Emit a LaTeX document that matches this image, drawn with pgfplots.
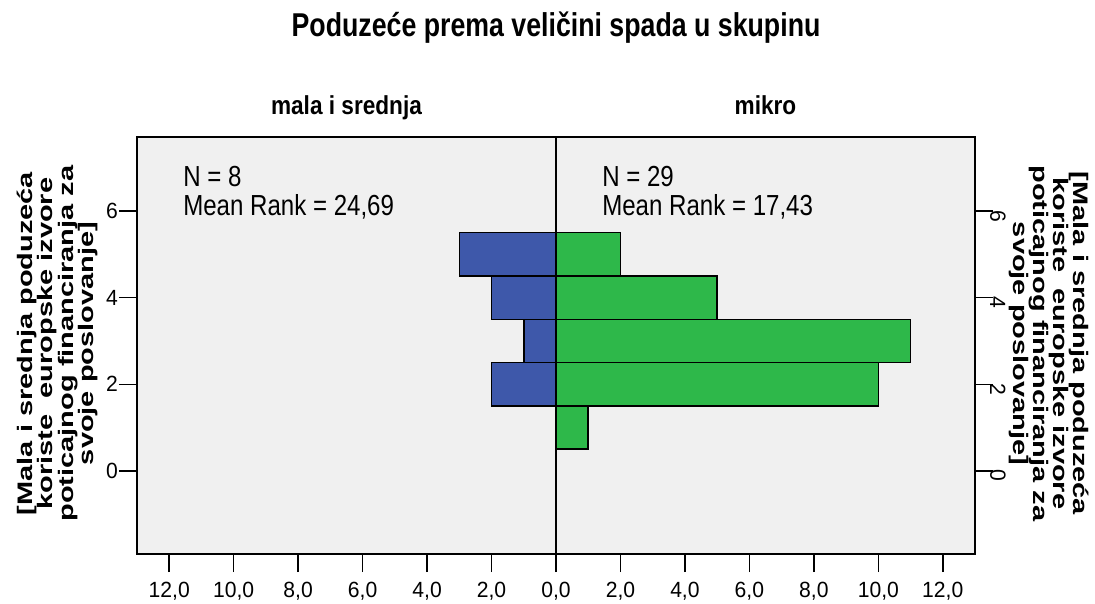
\documentclass[border=0pt]{standalone}
\usepackage{pgfplots}
\pgfplotsset{compat=1.18}
\usepackage{fontspec}
\setmainfont{Liberation Sans}
\newfontfamily\titlefont[FakeStretch=0.81]{Liberation Sans}
\newfontfamily\panelfont[FakeStretch=0.87]{Liberation Sans}
\newfontfamily\statfont[FakeStretch=0.83]{Liberation Sans}
\newfontfamily\tickfont[FakeStretch=0.96]{Liberation Sans}
\newfontfamily\vlabfont[FakeStretch=1.38]{Liberation Sans}

\definecolor{bgc}{RGB}{240,240,240}
\definecolor{blueb}{RGB}{62,88,170}
\definecolor{greenb}{RGB}{46,184,74}

\tikzset{
  stat/.style={anchor=base west, inner sep=0pt, font=\statfont\fontsize{29}{29}\selectfont},
  vlab/.style={anchor=center, align=center, font=\vlabfont\bfseries\fontsize{21}{20.3}\selectfont},
}
\pgfplotsset{
  panel/.style={
    scale only axis, width=419pt, height=417pt,
    ymin=-1.92, ymax=7.71,
    axis background/.style={fill=bgc},
    axis line style={line width=1.6pt, black},
    ytick={0,2,4,6},
    tick align=outside, major tick length=18pt,
    tick style={line width=1.5pt, black},
    xtick pos=lower, xticklabel pos=lower,
    /pgf/number format/assume math mode=true,
    tick label style={font=\tickfont\fontsize{22}{22}\selectfont, inner sep=0pt},
    xticklabel style={anchor=north, yshift=-10pt},
    every axis title/.style={at={(axis description cs:0.5,1)}, anchor=base, yshift=23pt,
      font=\panelfont\bfseries\fontsize{26}{26}\selectfont},
  },
}

\begin{document}
\begin{tikzpicture}
\useasboundingbox (0pt,0pt) rectangle (1095pt,-603pt);

\node[anchor=base, font=\titlefont\bfseries\fontsize{33}{33}\selectfont] at (556pt,-36pt)
  {Poduzeće prema veličini spada u skupinu};

% left panel: mala i srednja
\begin{axis}[panel,
  at={(137pt,-554pt)}, anchor=south west,
  xmin=-13, xmax=0,
  xtick={-12,-10,-8,-6,-4,-2,0},
  xticklabels={{12,0},{10,0},{8,0},{6,0},{4,0},{2,0},{0,0}},
  ytick pos=lower, yticklabel pos=lower,
  yticklabel style={anchor=east, xshift=-1pt},
  title={mala i srednja},
  ylabel={[Mala i srednja poduzeća\\koriste\ \ europske izvore\\poticajnog financiranja za\\svoje poslovanje]},
  every axis y label/.style={at={(axis description cs:0,0.5)}, xshift=-79.5pt, yshift=2pt, rotate=90, vlab},
]
\addplot[xbar, bar width=1, bar shift=0pt, fill=blueb, draw=black, line width=1.5pt]
  coordinates {(-2,2) (-1,3) (-2,4) (-3,5)};
\node[stat] at (axis cs:-11.57,6.556) {N = 8};
\node[stat] at (axis cs:-11.57,5.909) {Mean Rank = 24,69};
\end{axis}

% right panel: mikro
\begin{axis}[panel,
  at={(556pt,-554pt)}, anchor=south west,
  xmin=0, xmax=13,
  xtick={2,4,6,8,10,12},
  xticklabels={{2,0},{4,0},{6,0},{8,0},{10,0},{12,0}},
  ytick pos=upper, yticklabel pos=upper,
  yticklabel style={anchor=south, xshift=-3pt, yshift=-5pt, rotate=-90},
  title={mikro},
  ylabel={[Mala i srednja poduzeća\\koriste\ \ europske izvore\\poticajnog financiranja za\\svoje poslovanje]},
  every axis y label/.style={at={(axis description cs:1,0.5)}, xshift=74pt, yshift=2pt, rotate=-90, vlab},
]
\addplot[xbar, bar width=1, bar shift=0pt, fill=greenb, draw=black, line width=1.5pt]
  coordinates {(1,1) (10,2) (11,3) (5,4) (2,5)};
\node[stat] at (axis cs:1.43,6.556) {N = 29};
\node[stat] at (axis cs:1.43,5.909) {Mean Rank = 17,43};
\end{axis}
\end{tikzpicture}
\end{document}
